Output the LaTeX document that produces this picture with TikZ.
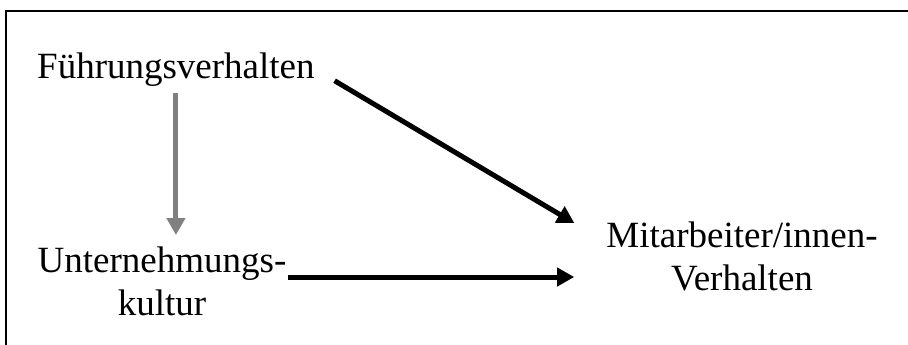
\documentclass[tikz,border=0pt]{standalone}
\usepackage{fontspec}
\setmainfont{Liberation Serif}
\usetikzlibrary{arrows.meta}

\begin{document}
\begin{tikzpicture}[x=1pt, y=-1pt,
    lbl/.style={font=\fontsize{37}{43}\selectfont, inner sep=0pt, align=center},
    link/.style={line width=5pt, -{Triangle[length=17pt, width=18pt]}},
    frame/.style={line width=2pt}
]
    \useasboundingbox (0,0) rectangle (908,345);
    \draw[frame] (6,345) -- (6,11) -- (908,11);

    \node[lbl, anchor=base west] (fuehrung) at (37,79) {Führungsverhalten};
    \node[lbl, anchor=base] (kultur) at (162,315) {Unternehmungs-\\kultur};
    \node[lbl, anchor=base] (mitarb) at (742,290) {Mitarbeiter/innen-\\Verhalten};

    \draw[link, black!50, shorten <=6pt] (fuehrung.south) -- ([yshift=80pt]fuehrung.south |- kultur.base);
    \draw[link, shorten <=23pt, shorten >=37pt] ([yshift=10pt]fuehrung.base east) -- ([yshift=48pt]mitarb.base -| mitarb.west);
    \draw[link, shorten <=1pt, shorten >=32pt] ([yshift=38pt]kultur.base -| kultur.east) -- ([yshift=38pt]kultur.base -| mitarb.west);
\end{tikzpicture}
\end{document}
